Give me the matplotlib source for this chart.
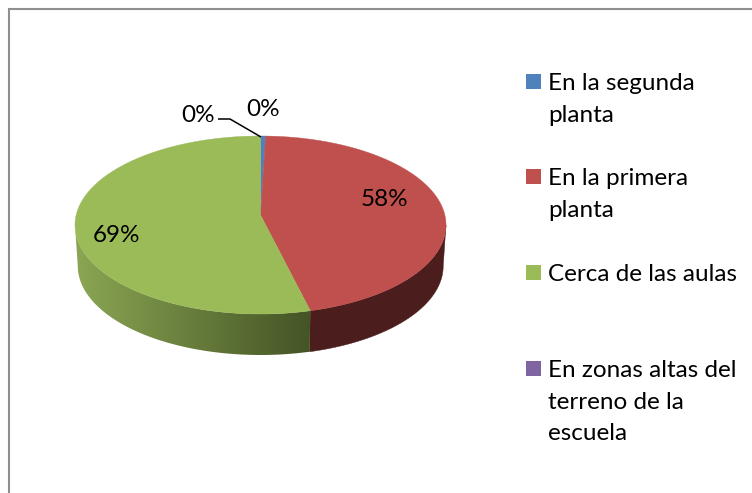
import numpy as np
import matplotlib
matplotlib.use("Agg")
import matplotlib.pyplot as plt
from matplotlib.patches import Rectangle, Polygon
from matplotlib.colors import LinearSegmentedColormap

categories = ["En la segunda\nplanta", "En la primera\nplanta", "Cerca de las aulas",
              "En zonas altas del\nterreno de la\nescuela"]
values = [0.6, 58, 69, 0.0]
value_labels = ["0%", "58%", "69%", "0%"]
colors = ["#4F81BD", "#C0504D", "#9BBB59", "#8064A2"]

W, H = 752, 493
CX, CY, A, B, DEPTH = 260.5, 225.0, 185.5, 89.0, 41.0
APEX_Y = 215.0
FONT = "Lato"

fig = plt.figure(figsize=(W / 100, H / 100), dpi=100)
ax = fig.add_axes([0, 0, 1, 1])
LIMS = (-CX / A, (W - CX) / A), ((CY - H) / B, CY / B)


def px(x, y):
    return (x - CX) / A, (CY - y) / B


# chart frame
x0, y0 = px(9.5, 9.5)
x1, y1 = px(W + 5, H + 5)
ax.add_patch(Rectangle((x0, y1), x1 - x0, y0 - y1, fc="white", ec="#8f8f8f", lw=1.5, zorder=1))

# slice edges, clockwise from the top, with a slight perspective warp
fracs = np.array(values) / sum(values)
raw = np.concatenate([[0], np.cumsum(fracs)]) * 2 * np.pi
edges = raw - 0.062 * np.sin(raw)
d = DEPTH / B
SHRINK = 0.985


def wall(t0, t1):
    t = np.linspace(t0, t1, 200)
    xs, ys = np.sin(t), np.cos(t)
    return np.c_[np.r_[xs, xs[::-1] * SHRINK], np.r_[ys, ys[::-1] - d]]


# side wall: red, dark and flat
red_wall = Polygon(wall(np.pi / 2, edges[2]), fc="#4B1D1D", ec="#4B1D1D", lw=0.3, zorder=2)
ax.add_patch(red_wall)

# side wall: green, gradient clipped to the wall outline
green_wall = Polygon(wall(edges[2], 1.5 * np.pi), fc="none", ec="none", zorder=2)
ax.add_patch(green_wall)
cmap = LinearSegmentedColormap.from_list("wall", ["#8BA653", "#445425"])
right = np.sin(edges[2])
im = ax.imshow(np.linspace(0, 1, 256)[None, :], cmap=cmap, aspect="auto",
               extent=(-1, right, -1 - d, 0), zorder=2, interpolation="bilinear")
im.set_clip_path(green_wall)

# top face
apex = (0.0, (CY - APEX_Y) / B)
for i, col in enumerate(colors):
    if values[i] <= 0:
        continue
    t = np.linspace(edges[i], edges[i + 1], 300)
    poly = np.vstack([apex, np.c_[np.sin(t), np.cos(t)]])
    ax.add_patch(Polygon(poly, closed=True, fc=col, ec=col, lw=0.3, zorder=3))

# data labels
tkw = dict(family=FONT, fontsize=17.5, color="black", ha="center", va="center", zorder=5)
for lab, (x, y) in zip(value_labels, [(263.5, 110), (384.5, 200), (117, 236), (198, 115)]):
    ax.text(*px(x, y), lab, **tkw)

# leader line
lx, ly = zip(px(218, 119), px(230, 119), px(261, 137))
ax.plot(lx, ly, color="black", lw=1.1, zorder=4, solid_capstyle="butt")

# legend
tops = [74, 169, 265, 361]
for cat, col, y in zip(categories, colors, tops):
    sx, sy = px(526, y)
    sx2, sy2 = px(541, y + 15)
    ax.add_patch(Rectangle((sx, sy2), sx2 - sx, sy - sy2, fc=col, ec="none", zorder=4))
    ax.text(*px(548, y - 1), cat, family=FONT, fontsize=17.5, color="black",
            ha="left", va="top", linespacing=1.63, zorder=5)

ax.set_xlim(*LIMS[0])
ax.set_ylim(*LIMS[1])
ax.axis("off")
fig.savefig("out.png", dpi=100)
